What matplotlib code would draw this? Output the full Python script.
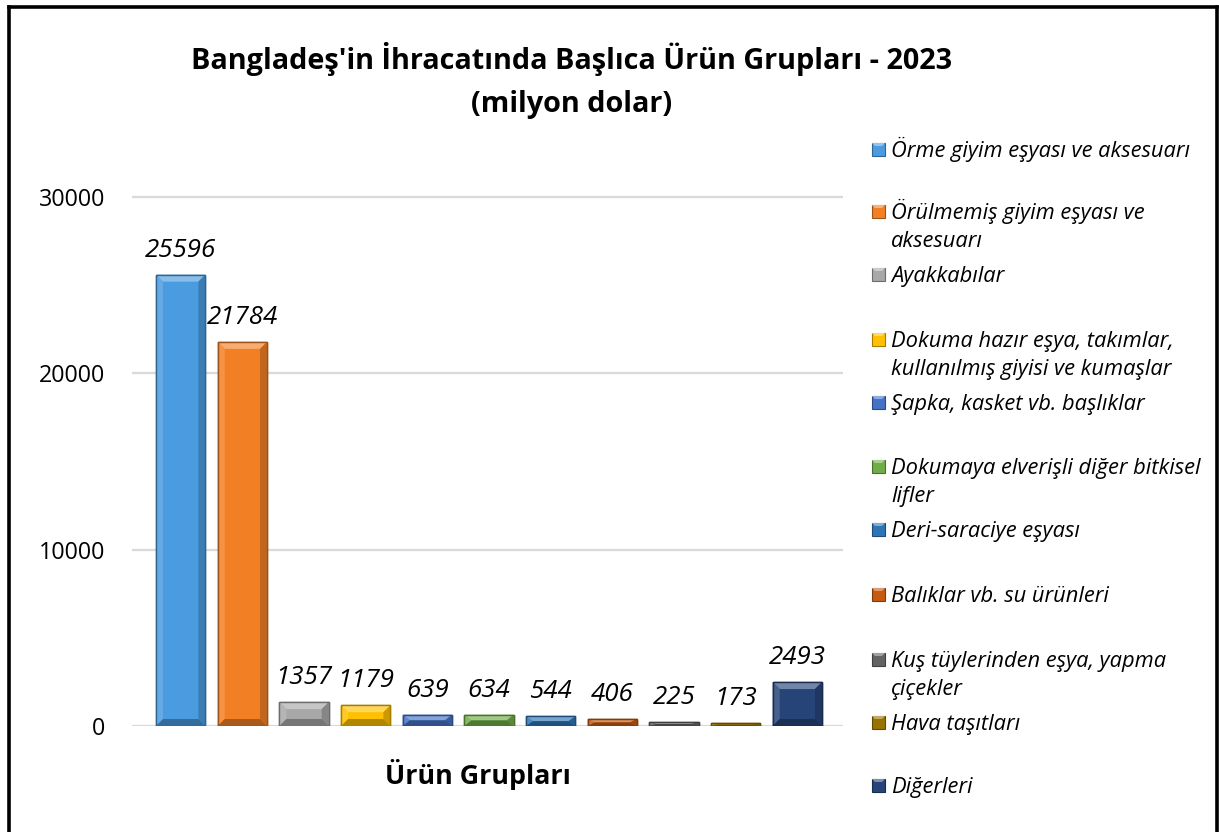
import matplotlib
matplotlib.use("Agg")
import matplotlib.pyplot as plt
from matplotlib.patches import Polygon, Rectangle
from matplotlib.lines import Line2D
import numpy as np
from matplotlib import colors as mcolors

# ---------------- data ----------------
categories = [
    "Örme giyim eşyası ve aksesuarı",
    "Örülmemiş giyim eşyası ve\naksesuarı",
    "Ayakkabılar",
    "Dokuma hazır eşya, takımlar,\nkullanılmış giyisi ve kumaşlar",
    "Şapka, kasket vb. başlıklar",
    "Dokumaya elverişli diğer bitkisel\nlifler",
    "Deri-saraciye eşyası",
    "Balıklar vb. su ürünleri",
    "Kuş tüylerinden eşya, yapma\nçiçekler",
    "Hava taşıtları",
    "Diğerleri",
]
values = [25596, 21784, 1357, 1179, 639, 634, 544, 406, 225, 173, 2493]
bar_colors = ["#4A9BE0", "#F27F24", "#A8A8A8", "#FFC000", "#4472C4",
              "#70AD47", "#2E75B6", "#C55A11", "#636363", "#997300", "#264478"]
yticks = [0, 10000, 20000, 30000]
title_line1 = "Bangladeş'in İhracatında Başlıca Ürün Grupları - 2023"
title_line2 = "(milyon dolar)"
xlabel = "Ürün Grupları"

FONT = "Open Sans"
W, H = 1219, 832
fig = plt.figure(figsize=(W / 100, H / 100), dpi=100)
renderer = fig.canvas.get_renderer()


def fy(py):
    return 1 - py / H


def fx(px):
    return px / W


def fit(t, target):
    w = t.get_window_extent(renderer).width
    t.set_fontsize(t.get_fontsize() * target / w)
    return t.get_fontsize()


# axes: x pixels 132..843, y=0 at 726, 30000 at 197
y_top = 32000
px_per_unit = (726 - 197) / 30000
ax_top_px = 726 - y_top * px_per_unit
ax = fig.add_axes([fx(132), fy(726), fx(843 - 132), (726 - ax_top_px) / H])
xlim = (-0.79, 10.74)
ax.set_xlim(*xlim)
ax.set_ylim(0, y_top)
for s in ax.spines.values():
    s.set_visible(False)
ax.set_xticks([])
ax.set_yticks(yticks)
ax.tick_params(axis="y", length=0, pad=19)
ax.yaxis.grid(True, color="#D9D9D9", linewidth=1.6)
ax.set_axisbelow(True)

probe = fig.text(0, 0, "30000", family=FONT, fontsize=14)
tsize = fit(probe, 67)
probe.remove()
for lab in ax.get_yticklabels():
    lab.set_family(FONT)
    lab.set_fontsize(tsize)
    lab.set_color("#000000")

# ---- bars with bevel ----
x = np.arange(len(values))
width = 0.8
ax_w_px = 843 - 132
ax_h_px = 726 - ax_top_px
sx = ax_w_px / (xlim[1] - xlim[0])
sy = ax_h_px / y_top
bevel = 7.0


def shade(c, f):
    r, g, b = mcolors.to_rgb(c)
    if f >= 0:
        return (r + (1 - r) * f, g + (1 - g) * f, b + (1 - b) * f)
    f = -f
    return (r * (1 - f), g * (1 - f), b * (1 - f))


bars = ax.bar(x, values, width=width, color=bar_colors,
              edgecolor=[shade(c, -0.35) for c in bar_colors], linewidth=1.0, zorder=2)
for rect, c in zip(bars, bar_colors):
    L = rect.get_x()
    R = L + rect.get_width()
    T = rect.get_height()
    bx = min(bevel / sx, (R - L) / 2)
    by = min(bevel / sy, T / 2)
    polys = [
        ([(L, T), (R, T), (R - bx, T - by), (L + bx, T - by)], shade(c, 0.35)),
        ([(L, 0), (L, T), (L + bx, T - by), (L + bx, by)], shade(c, 0.15)),
        ([(R, 0), (R, T), (R - bx, T - by), (R - bx, by)], shade(c, -0.2)),
        ([(L, 0), (R, 0), (R - bx, by), (L + bx, by)], shade(c, -0.3)),
    ]
    for pts, col in polys:
        ax.add_patch(Polygon(pts, closed=True, facecolor=col, edgecolor="none", zorder=3))
    ax.add_patch(Rectangle((L, 0), R - L, T, facecolor="none",
                           edgecolor=shade(c, -0.35), linewidth=1.0, zorder=4))

# ---- data labels ----
probe = fig.text(0, 0, "2493", family=FONT, style="italic", fontsize=16)
lsize = fit(probe, 57)
probe.remove()
for xi, v in zip(x, values):
    ax.annotate(str(v), (xi, v), xytext=(0, 13), textcoords="offset points",
                ha="center", va="baseline", family=FONT, style="italic",
                fontsize=lsize, color="#000000", zorder=5)

# ---- titles ----
t1 = fig.text(fx(572), fy(69), title_line1, ha="center", va="baseline",
              family=FONT, weight="bold", fontsize=20)
fs = fit(t1, 765)
t2 = fig.text(fx(572), fy(112), title_line2, ha="center", va="baseline",
              family=FONT, weight="bold", fontsize=fs)
xl = fig.text(fx(478), fy(784), xlabel, ha="center", va="baseline",
              family=FONT, weight="bold", fontsize=16)
fit(xl, 185)

# ---- legend (manual) ----
baselines = [157, 219, 282, 347, 410, 474, 537, 602, 667, 730, 793]
line_gap = 28
probe = fig.text(0, 0, categories[0], family=FONT, style="italic", fontsize=14)
gsize = fit(probe, 300)
probe.remove()
msz = 13
for cat, c, b in zip(categories, bar_colors, baselines):
    for k, line in enumerate(cat.split("\n")):
        fig.text(fx(891), fy(b + k * line_gap), line, ha="left", va="baseline",
                 family=FONT, style="italic", fontsize=gsize, color="#000000")
    x0, y0 = 872, b - 1 - msz
    fig.patches.append(Rectangle((fx(x0), fy(y0 + msz)), msz / W, msz / H,
                                 transform=fig.transFigure, facecolor=c,
                                 edgecolor=shade(c, -0.35), linewidth=0.8))
    e = 3
    tri = [(x0, y0), (x0 + msz, y0), (x0 + msz - e, y0 + e), (x0 + e, y0 + e)]
    fig.patches.append(Polygon([(fx(px), fy(py)) for px, py in tri], closed=True,
                               transform=fig.transFigure,
                               facecolor=shade(c, 0.4), edgecolor="none"))

# ---- outer border ----
for (xa, ya), (xb, yb) in [((9, 850), (9, 7)), ((9, 7), (1217, 7)), ((1217, 7), (1217, 850))]:
    fig.add_artist(Line2D([fx(xa), fx(xb)], [fy(ya), fy(yb)], transform=fig.transFigure,
                          color="black", linewidth=2.6))

fig.savefig("out.png", dpi=100, facecolor="white")
